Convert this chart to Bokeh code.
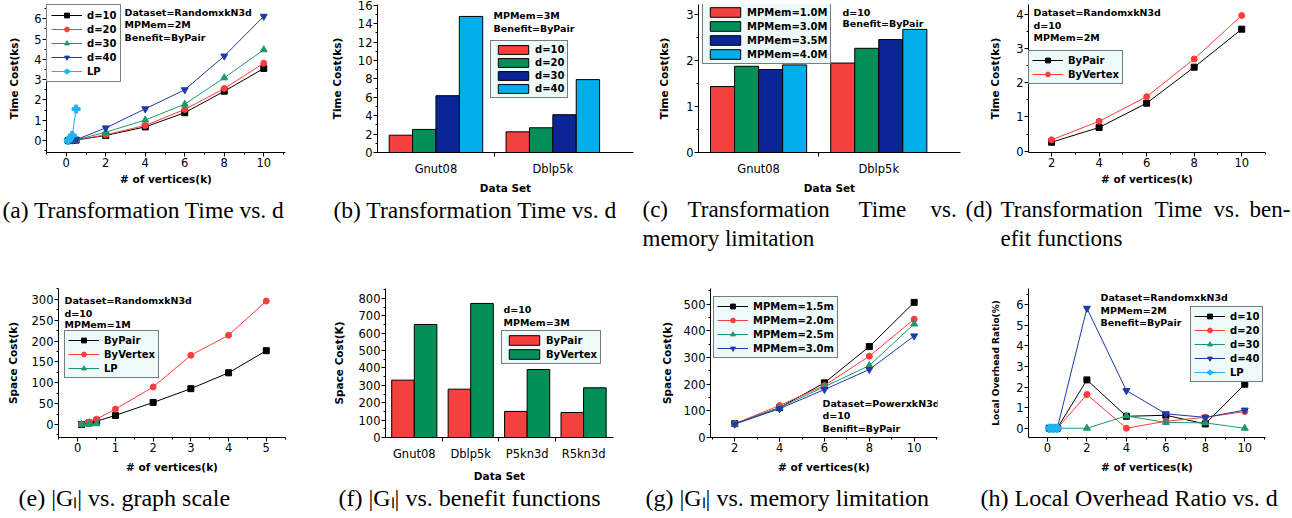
from bokeh.plotting import figure
from bokeh.layouts import column, row
from bokeh.models import Range1d, SingleIntervalTicker, FixedTicker, Label, ColumnDataSource
from bokeh.transform import dodge
from bokeh.core.properties import value
from bokeh.embed import file_html
from bokeh.resources import INLINE

SANS = "DejaVu Sans"
SERIF = "Liberation Serif"

# ---------------- data ----------------
# (a) Transformation time vs d
a_x = [0.1, 0.3, 0.5, 2, 4, 6, 8, 10]
a_d10 = [0.0, 0.01, 0.02, 0.25, 0.67, 1.37, 2.43, 3.55]
a_d20 = [0.0, 0.01, 0.03, 0.28, 0.74, 1.53, 2.56, 3.81]
a_d30 = [0.0, 0.01, 0.03, 0.41, 1.01, 1.79, 3.09, 4.47]
a_d40 = [0.0, 0.02, 0.04, 0.62, 1.56, 2.50, 4.16, 6.12]
a_lp_x = [0.1, 0.3, 0.5]
a_lp = [0.0, 0.25, 1.55]

# (b) Transformation time vs d (bars)
b_cats = ["Gnut08", "Dblp5k"]
b_d10 = [1.88, 2.25]
b_d20 = [2.51, 2.69]
b_d30 = [6.18, 4.11]
b_d40 = [14.8, 7.93]

# (c) Transformation time vs memory limitation
c_cats = ["Gnut08", "Dblp5k"]
c_m10 = [1.43, 1.94]
c_m30 = [1.87, 2.26]
c_m35 = [1.80, 2.45]
c_m40 = [1.90, 2.67]

# (d) Transformation time vs benefit functions
d_x = [2, 4, 6, 8, 10]
d_bypair = [0.26, 0.69, 1.40, 2.45, 3.56]
d_byvertex = [0.33, 0.87, 1.59, 2.69, 3.96]

# (e) |Gl| vs graph scale
e_x = [0.1, 0.3, 0.5, 1, 2, 3, 4, 5]
e_bypair = [0, 4, 8, 22, 53, 86, 124, 177]
e_byvertex = [1, 6, 13, 37, 90, 166, 214, 296]
e_lp_x = [0.1, 0.3, 0.5]
e_lp = [0.5, 1, 2]

# (f) |Gl| vs benefit functions
f_cats = ["Gnut08", "Dblp5k", "P5kn3d", "R5kn3d"]
f_bypair = [330, 278, 150, 144]
f_byvertex = [650, 771, 391, 286]

# (g) |Gl| vs memory limitation
g_x = [2, 4, 6, 8, 10]
g_15 = [52, 112, 205, 341, 507]
g_20 = [52, 120, 195, 305, 444]
g_25 = [51, 112, 190, 270, 426]
g_30 = [50, 108, 180, 255, 381]

# (h) Local overhead ratio vs d
h_x = [0.1, 0.3, 0.5, 2, 4, 6, 8, 10]
h_d10 = [0, 0, 0, 2.35, 0.58, 0.63, 0.21, 2.14]
h_d20 = [0, 0, 0, 1.64, 0.0, 0.34, 0.53, 0.81]
h_d30 = [0, 0, 0, 0.0, 0.60, 0.28, 0.26, 0.0]
h_d40 = [0, 0, 0, 5.83, 1.83, 0.70, 0.53, 0.88]
h_lp_x = [0.1, 0.3, 0.5]
h_lp = [0, 0, 0]

captions_ab = ["(a) Transformation Time vs. d", "(b) Transformation Time vs. d"]
captions_cd = ["(c)", "Transformation", "Time", "vs.", "memory limitation",
               "(d)", "Transformation", "Time", "vs.", "ben-", "efit functions"]
captions_bottom = ["(e) |Gₗ| vs. graph scale", "(f) |Gₗ| vs. benefit functions",
                   "(g) |Gₗ| vs. memory limitation", "(h) Local Overhead Ratio vs. d"]

# colours
BLACK, RED, GREEN, BLUE, CYAN = "#000000", "#ff3c3c", "#1d9a6c", "#1c3aa9", "#1fb4f2"
BAR_RED, BAR_GREEN, BAR_BLUE, BAR_CYAN = "#f5413e", "#039058", "#0a2696", "#00aeea"
LEG_BG = "#eefafa"

# row geometry (frames of one row share top and bottom)
ROW1 = dict(top=4, fh=148, bottom=45)
ROW2 = dict(top=16, fh=149, bottom=48)


def base_fig(rowg, mbl, fw, mbr, xr, yr, xlabel, ylabel, xls, yls, ylabel_size="10.5px"):
    mbt, fh, mbb = rowg["top"], rowg["fh"], rowg["bottom"]
    p = figure(width=mbl + fw + mbr, height=mbt + fh + mbb,
               min_border_left=mbl, min_border_right=mbr,
               min_border_top=mbt, min_border_bottom=mbb,
               x_range=Range1d(*xr), y_range=Range1d(*yr),
               output_backend="svg", toolbar_location=None)
    p.outline_line_color = None
    p.xgrid.visible = False
    p.ygrid.visible = False
    p.background_fill_color = "white"
    p.border_fill_color = "white"
    p.xaxis.axis_label = xlabel
    p.yaxis.axis_label = ylabel
    for ax in (p.xaxis[0], p.yaxis[0]):
        ax.axis_line_color = "black"
        ax.axis_line_width = 1
        ax.major_tick_line_color = "black"
        ax.minor_tick_line_color = "black"
        ax.major_tick_in = 0
        ax.major_tick_out = 4
        ax.minor_tick_in = 0
        ax.minor_tick_out = 2
        ax.major_label_standoff = 1
        ax.major_label_text_font = SANS
        ax.major_label_text_font_size = "11.5px"
        ax.major_label_text_color = "black"
        ax.axis_label_text_font = SANS
        ax.axis_label_text_font_style = "bold"
        ax.axis_label_text_font_size = "10.5px"
        ax.axis_label_text_color = "black"
    p.yaxis[0].axis_label_text_font_size = ylabel_size
    p.xaxis[0].axis_label_standoff = xls
    p.yaxis[0].axis_label_standoff = yls
    return p


def notes(p, x, ys, texts):
    for y, t in zip(ys, texts):
        p.add_layout(Label(x=x, y=y, x_units="screen", y_units="screen", text=t,
                           text_font=SANS, text_font_style="bold", text_font_size="9.5px",
                           text_baseline="middle", text_align="left", text_color="black"))


def series(p, x, y, color, marker, label, size):
    src = ColumnDataSource(dict(x=x, y=y))
    p.line("x", "y", source=src, line_color=color, line_width=1, legend_label=label)
    p.scatter("x", "y", source=src, marker=marker, size=size, fill_color=color,
              line_color=color, legend_label=label)


def style_legend(p, fh, pos, bg, pad=3, spacing=2, lh=12, gw=31, gh=12, standoff=5):
    lg = p.legend[0]
    n = len(lg.items)
    if pos == "top_left":
        lg.location = "top_left"
    else:
        left, top = pos
        leg_h = 2 * pad + n * max(lh, gh) + (n - 1) * spacing
        lg.location = (left, fh - top - leg_h)
    lg.margin = 0
    lg.padding = pad
    lg.spacing = spacing
    lg.label_height = lh
    lg.glyph_height = gh
    lg.glyph_width = gw
    lg.label_standoff = standoff
    lg.border_line_color = "black"
    lg.border_line_width = 1
    lg.background_fill_color = bg
    lg.background_fill_alpha = 1
    lg.label_text_font = SANS
    lg.label_text_font_style = "bold"
    lg.label_text_font_size = "10px"
    lg.label_text_color = "black"


def bar_chart(p, cats, series_list, width, offsets):
    data = dict(x=list(range(1, len(cats) + 1)), cat=cats)
    for i, (vals, col, lab) in enumerate(series_list):
        data["s%d" % i] = vals
    src = ColumnDataSource(data)
    for i, (vals, col, lab) in enumerate(series_list):
        p.vbar(x=dodge("x", offsets[i]), top="s%d" % i, width=width, bottom=0, source=src,
               fill_color=col, line_color="black", line_width=1, legend_label=lab)
    idx = list(range(1, len(cats) + 1))
    ax = p.xaxis[0]
    ax.ticker = FixedTicker(ticks=idx, minor_ticks=[i + 0.5 for i in idx[:-1]])
    ax.major_label_overrides = {i: c for i, c in zip(idx, cats)}
    ax.major_tick_out = 0
    ax.minor_tick_out = 4
    ax.major_label_standoff = 5


FH1, FH2 = ROW1["fh"], ROW2["fh"]

# ---------------- (a) ----------------
pa = base_fig(ROW1, 46, 239, 33, (-1.0, 11.1), (-0.59, 6.70),
              "# of vertices(k)", "Time Cost(ks)", 3, 11)
pa.xaxis[0].ticker = SingleIntervalTicker(interval=2, num_minor_ticks=2)
pa.yaxis[0].ticker = SingleIntervalTicker(interval=1, num_minor_ticks=2)
series(pa, a_x, a_d10, BLACK, "square", "d=10", 6)
series(pa, a_x, a_d20, RED, "circle", "d=20", 6)
series(pa, a_x, a_d30, GREEN, "triangle", "d=30", 7)
series(pa, a_x, a_d40, BLUE, "inverted_triangle", "d=40", 7)
series(pa, a_lp_x, a_lp, CYAN, "plus", "LP", 8)
style_legend(pa, FH1, "top_left", "white", pad=4)
notes(pa, 78, [140.3, 127.7, 114.7], ["Dataset=RandomxkN3d", "MPMem=2M", "Benefit=ByPair"])

# ---------------- (b) ----------------
pb = base_fig(ROW1, 59, 256, 5, (0.5, 2.69), (0, 16.1), "Data Set", "Time Cost(ks)", 3, 12)
pb.yaxis[0].ticker = SingleIntervalTicker(interval=2, num_minor_ticks=2)
bar_chart(pb, b_cats, [(b_d10, BAR_RED, "d=10"), (b_d20, BAR_GREEN, "d=20"),
                       (b_d30, BAR_BLUE, "d=30"), (b_d40, BAR_CYAN, "d=40")],
          0.2, [-0.3, -0.1, 0.1, 0.3])
style_legend(pb, FH1, (113, 38), LEG_BG, gw=38, lh=11, gh=11, standoff=3)
notes(pb, 116, [137, 124.3], ["MPMem=3M", "Benefit=ByPair"])

# ---------------- (c) ----------------
pc = base_fig(ROW1, 60, 262, 2, (0.5, 2.68), (0, 3.21), "Data Set", "Time Cost(ks)", 3, 13)
pc.yaxis[0].ticker = SingleIntervalTicker(interval=1, num_minor_ticks=2)
bar_chart(pc, c_cats, [(c_m10, BAR_RED, "MPMem=1.0M"), (c_m30, BAR_GREEN, "MPMem=3.0M"),
                       (c_m35, BAR_BLUE, "MPMem=3.5M"), (c_m40, BAR_CYAN, "MPMem=4.0M")],
          0.2, [-0.3, -0.1, 0.1, 0.3])
style_legend(pc, FH1, (4, 0), LEG_BG, gw=38, standoff=3)
notes(pc, 144, [140.3, 128.7], ["d=10", "Benefit=ByPair"])

# ---------------- (d) ----------------
pd_ = base_fig(ROW1, 66, 237, 27, (1.03, 11.0), (-0.04, 4.28),
               "# of vertices(k)", "Time Cost(ks)", 3, 12)
pd_.xaxis[0].ticker = SingleIntervalTicker(interval=2, num_minor_ticks=2)
pd_.yaxis[0].ticker = SingleIntervalTicker(interval=1, num_minor_ticks=2)
series(pd_, d_x, d_bypair, BLACK, "square", "ByPair", 6)
series(pd_, d_x, d_byvertex, RED, "circle", "ByVertex", 6)
style_legend(pd_, FH1, (0, 48), LEG_BG)
notes(pd_, 5, [140.3, 127, 115.3], ["Dataset=RandomxkN3d", "d=10", "MPMem=2M"])

# ---------------- (e) ----------------
pe = base_fig(ROW2, 58, 227, 33, (-0.51, 5.51), (-31, 326),
              "# of vertices(k)", "Space Cost(k)", 6, 10)
pe.xaxis[0].ticker = SingleIntervalTicker(interval=1, num_minor_ticks=2)
pe.yaxis[0].ticker = SingleIntervalTicker(interval=50, num_minor_ticks=2)
series(pe, e_x, e_bypair, BLACK, "square", "ByPair", 6)
series(pe, e_x, e_byvertex, RED, "circle", "ByVertex", 6)
series(pe, e_lp_x, e_lp, GREEN, "triangle", "LP", 7)
style_legend(pe, FH2, (6, 44), LEG_BG)
notes(pe, 6, [137, 124.3, 112.7], ["Dataset=RandomxkN3d", "d=10", "MPMem=1M"])

# ---------------- (f) ----------------
pf = base_fig(ROW2, 67, 228, 25, (0.49, 4.53), (0, 857), "Data Set", "Space Cost(K)", 6, 11)
pf.yaxis[0].ticker = SingleIntervalTicker(interval=100, num_minor_ticks=2)
bar_chart(pf, f_cats, [(f_bypair, BAR_RED, "ByPair"), (f_byvertex, BAR_GREEN, "ByVertex")],
          0.4, [-0.2, 0.2])
style_legend(pf, FH2, (116, 44), LEG_BG, gw=38, standoff=3)
notes(pf, 118, [127.7, 114.7], ["d=10", "MPMem=3M"])

# ---------------- (g) ----------------
pg = base_fig(ROW2, 72, 227, 25, (0.92, 11.04), (0, 559),
              "# of vertices(k)", "Space Cost(k)", 6, 8)
pg.xaxis[0].ticker = SingleIntervalTicker(interval=2, num_minor_ticks=2)
pg.yaxis[0].ticker = SingleIntervalTicker(interval=100, num_minor_ticks=2)
series(pg, g_x, g_15, BLACK, "square", "MPMem=1.5m", 6)
series(pg, g_x, g_20, RED, "circle", "MPMem=2.0m", 6)
series(pg, g_x, g_25, GREEN, "triangle", "MPMem=2.5m", 7)
series(pg, g_x, g_30, BLUE, "inverted_triangle", "MPMem=3.0m", 7)
style_legend(pg, FH2, (3, 10), LEG_BG)
notes(pg, 112, [34.3, 21.7, 9], ["Dataset=PowerxkN3d", "d=10", "Benifit=ByPair"])

# ---------------- (h) ----------------
ph = base_fig(ROW2, 66, 237, 27, (-0.96, 11.05), (-0.45, 6.79),
              "# of vertices(k)", "Local Overhead Ratio(%)", 6, 12, ylabel_size="9px")
ph.xaxis[0].ticker = SingleIntervalTicker(interval=2, num_minor_ticks=2)
ph.yaxis[0].ticker = SingleIntervalTicker(interval=1, num_minor_ticks=2)
series(ph, h_x, h_d10, BLACK, "square", "d=10", 6)
series(ph, h_x, h_d20, RED, "circle", "d=20", 6)
series(ph, h_x, h_d30, GREEN, "triangle", "d=30", 7)
series(ph, h_x, h_d40, BLUE, "inverted_triangle", "d=40", 7)
series(ph, h_lp_x, h_lp, CYAN, "plus", "LP", 8)
style_legend(ph, FH2, (162, 20), LEG_BG)
notes(ph, 72, [139.7, 127.3, 115], ["Dataset=RandomxkN3d", "MPMem=2M", "Benefit=ByPair"])


# ---------------- captions ----------------
def caption_fig(h, groups):
    p = figure(width=1292, height=h, x_range=Range1d(0, 1292), y_range=Range1d(h, 0),
               x_axis_type=None, y_axis_type=None, min_border=0,
               output_backend="svg", toolbar_location=None)
    p.outline_line_color = None
    p.background_fill_color = "white"
    p.border_fill_color = "white"
    for xs, ys, texts, size in groups:
        src = ColumnDataSource(dict(x=xs, y=ys, t=texts))
        p.text(x="x", y="y", text="t", source=src, text_font=value(SERIF),
               text_font_size=value(size), text_baseline="middle", text_align="left",
               text_color="black")
    return p


H1 = ROW1["top"] + ROW1["fh"] + ROW1["bottom"]
H2 = ROW2["top"] + ROW2["fh"] + ROW2["bottom"]
CAP1_H = 272 - H1
CAP2_H = 518 - 272 - H2

cap1 = caption_fig(CAP1_H, [
    ([2, 333], [12, 12], captions_ab, "23.5px"),
    ([642, 687, 858, 930, 642, 965, 1000, 1154, 1213, 1249, 1000],
     [12, 12, 12, 12, 41, 12, 12, 12, 12, 12, 41], captions_cd, "23px"),
])
cap2 = caption_fig(CAP2_H, [([18, 338, 645, 980], [12, 12, 12, 12], captions_bottom, "24px")])

layout = column(row(pa, pb, pc, pd_), cap1, row(pe, pf, pg, ph), cap2)

with open("out.html", "w") as f:
    f.write(file_html(layout, INLINE))
